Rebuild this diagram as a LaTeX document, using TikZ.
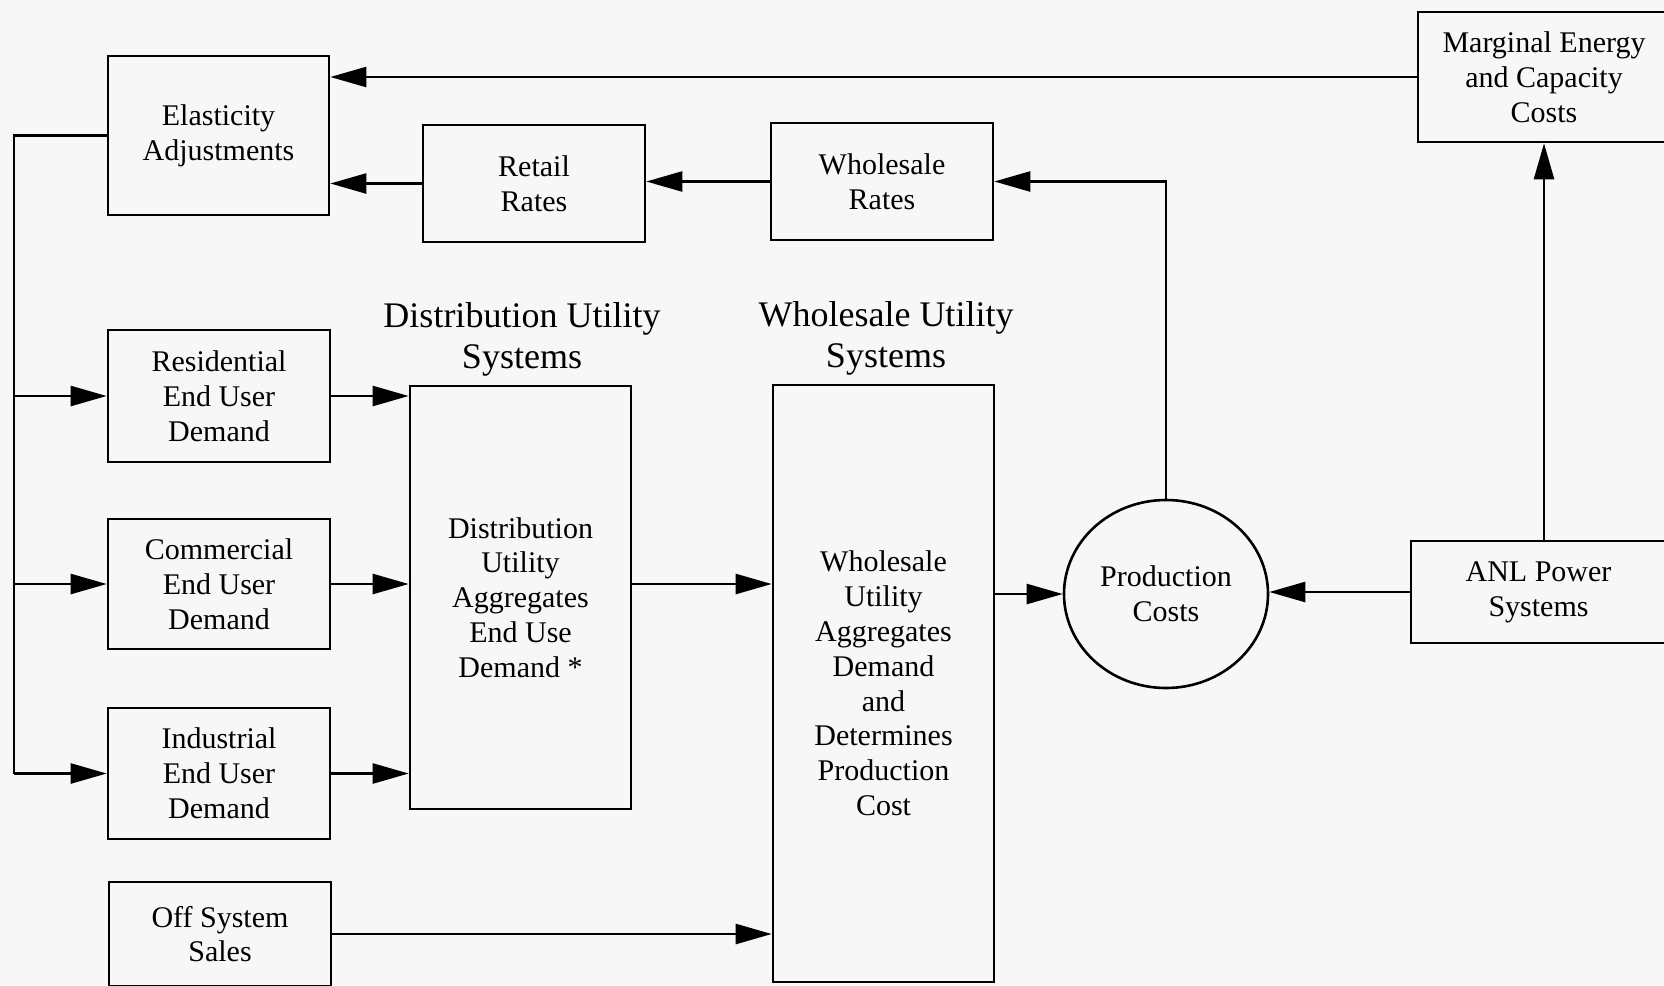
\documentclass[tikz,border=0pt]{standalone}
\usepackage{fontspec}
\setmainfont{Liberation Serif}
\usetikzlibrary{arrows.meta,shapes.geometric}
\definecolor{bgcol}{HTML}{F7F7F7}
\tikzset{
  blk/.style={draw, line width=1.3pt, align=center, inner sep=0pt, font=\fontsize{15}{17.4}\selectfont},
  ttl/.style={align=center, inner sep=0pt, font=\fontsize{18}{20.5}\selectfont},
  conn/.style={line width=1.2pt},
  arr/.style={line width=1.2pt, -{Triangle[length=18pt,width=10pt]}}
}
\begin{document}
\begin{tikzpicture}[x=0.5pt,y=-0.5pt]
\fill[bgcol] (0,0) rectangle (1664,985);
\useasboundingbox (0,0) rectangle (1664,985);

% boxes
\node[blk, minimum width=110.5pt, minimum height=79.5pt] (elast) at (218.5,135.5) {Elasticity\\Adjustments};
\node[blk, minimum width=111pt, minimum height=58.5pt] (retail) at (534,183.5) {Retail\\Rates};
\node[blk, minimum width=111pt, minimum height=58.5pt] (wrates) at (882,181.5) {Wholesale\\Rates};
\node[blk, minimum width=126pt, minimum height=65pt] (marg) at (1544,77) {Marginal Energy\\and Capacity\\Costs};
\node[blk, minimum width=111pt, minimum height=66pt] (resid) at (219,396) {Residential\\End User\\Demand};
\node[blk, minimum width=111pt, minimum height=65pt] (comm) at (219,584) {Commercial\\End User\\Demand};
\node[blk, minimum width=111pt, minimum height=65.5pt] (indus) at (219,773.5) {Industrial\\End User\\Demand};
\node[blk, minimum width=111pt, minimum height=52pt] (offsys) at (220,934) {Off System\\Sales};
\node[blk, minimum width=110.5pt, minimum height=211.5pt] (dist) at (520.5,597.5) {Distribution\\Utility\\Aggregates\\End Use\\Demand *};
\node[blk, minimum width=110.5pt, minimum height=298.5pt] (wutil) at (883.5,683.5) {Wholesale\\Utility\\Aggregates\\Demand\\and\\Determines\\Production\\Cost};
\node[blk, ellipse, minimum width=102pt, minimum height=94pt] (prod) at (1166,594) {Production\\Costs};
\node[blk, minimum width=127.5pt, minimum height=51pt] (anl) at (1538.5,592) {ANL Power\\Systems};

% titles
\node[ttl] (disttitle) at (522,339) {Distribution Utility\\Systems};
\node[ttl] (wtitle) at (886,338) {Wholesale Utility\\Systems};

% connectors
\draw[arr] (marg.west) -- (marg.west -| elast.east);
\draw[arr] (retail.west) -- (retail.west -| elast.east);
\draw[arr] (wrates.west) -- (wrates.west -| retail.east);
\draw[arr] (prod.north) |- (wrates.east);
\draw[arr] (marg.south |- anl.north) -- (marg.south);
\draw[arr] (anl.west) -- (anl.west -| prod.east);
\draw[arr] (wutil.east |- prod.west) -- (prod.west);
\draw[arr] (dist.east |- comm.east) -- (wutil.west |- comm.east);
\draw[arr] (resid.east) -- (resid.east -| dist.west);
\draw[arr] (comm.east) -- (comm.east -| dist.west);
\draw[arr] (indus.east) -- (indus.east -| dist.west);
\draw[arr] (offsys.east) -- (offsys.east -| wutil.west);

% feedback loop
\coordinate (fbtop) at (14,135.5);
\coordinate (fbbot) at (14,773.5);
\draw[conn] (elast.west) -- (fbtop) -- (fbbot);
\draw[arr] (fbbot) -- (indus.west);
\draw[arr] (resid.west -| fbtop) -- (resid.west);
\draw[arr] (comm.west -| fbtop) -- (comm.west);
\end{tikzpicture}
\end{document}
